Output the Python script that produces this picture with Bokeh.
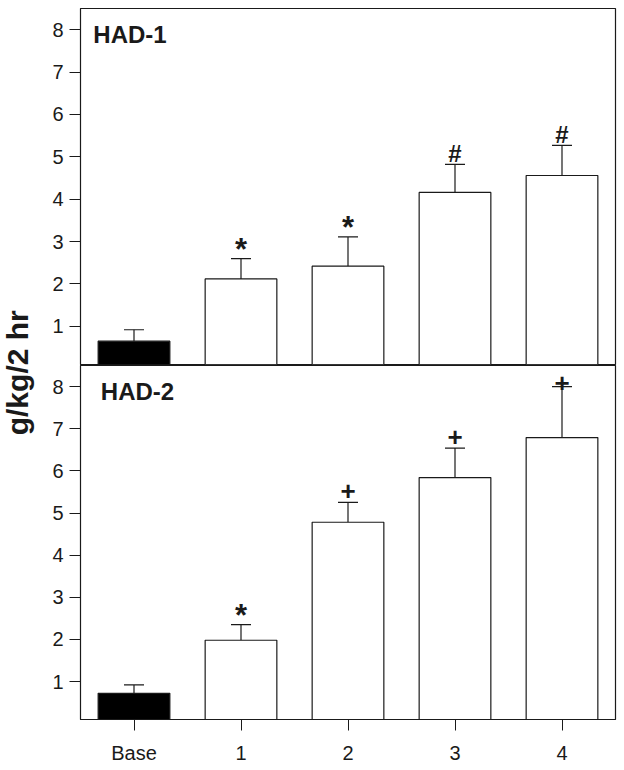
import math
from bokeh.plotting import figure
from bokeh.layouts import row, column
from bokeh.models import ColumnDataSource, Whisker, TeeHead, Label, FixedTicker, Range1d
from bokeh.core.properties import value
from bokeh.embed import file_html
from bokeh.resources import INLINE

# ---- data ----
categories = ["Base", "1", "2", "3", "4"]
had1_mean = [0.65, 2.12, 2.42, 4.16, 4.56]
had1_sem = [0.27, 0.48, 0.69, 0.66, 0.71]
had1_marks = ["", "*", "*", "#", "#"]
had2_mean = [0.72, 1.98, 4.78, 5.84, 6.79]
had2_sem = [0.20, 0.37, 0.47, 0.70, 1.21]
had2_marks = ["", "*", "+", "+", "+"]
y_ticks = [1, 2, 3, 4, 5, 6, 7, 8]
panel_titles = ["HAD-1", "HAD-2"]
y_label = "g/kg/2 hr"

FONT = "Liberation Sans"
INK = "#1a1a1a"
Y_MAX = 8.5
BAR_FILLS = ["black", "white", "white", "white", "white"]
MARK_SIZE = {"*": "31px", "#": "24px", "+": "26px", "": "20px"}
MARK_OFF = {"*": 9, "#": 11, "+": 11, "": 0}   # pixels upward from the cap


def mark_offset(mark, upper):
    off = MARK_OFF[mark]
    if upper > Y_MAX - 0.6:      # little room left below the panel top
        off = 4
    return -off


def panel(means, sems, marks, title, title_x, height, top_b, bot_b, show_x):
    p = figure(x_range=categories, y_range=Range1d(0.1, Y_MAX),
               width=578, height=height, output_backend="svg",
               toolbar_location=None, min_border_left=40, min_border_right=3,
               min_border_top=top_b, min_border_bottom=bot_b)
    p.grid.visible = False
    p.outline_line_color = INK
    p.outline_line_width = 1.2
    p.x_range.range_padding = 0
    uppers = [m + s for m, s in zip(means, sems)]
    src = ColumnDataSource(dict(
        x=categories, top=means, upper=uppers,
        fill=BAR_FILLS, mark=marks,
        msize=[MARK_SIZE[m] for m in marks],
        moff=[mark_offset(m, u) for m, u in zip(marks, uppers)]))
    p.vbar(x="x", top="top", bottom=0, width=0.67, source=src,
           fill_color="fill", line_color=INK, line_width=1.2)
    w = Whisker(base="x", lower="top", upper="upper", source=src,
                line_color=INK, line_width=1.2,
                upper_head=TeeHead(size=20, line_color=INK, line_width=1.2),
                lower_head=None)
    p.add_layout(w)
    p.text(x="x", y="upper", text="mark", source=src, text_align="center",
           text_baseline="alphabetic", text_font=value(FONT),
           text_font_style="bold", text_font_size="msize", y_offset="moff",
           text_color=INK)
    p.add_layout(Label(x=title_x, y=7.56, text=title, text_font=FONT,
                       text_font_style="bold", text_font_size="24px",
                       text_color=INK))
    # y axis
    p.yaxis.ticker = FixedTicker(ticks=y_ticks)
    p.yaxis.minor_tick_line_color = None
    p.yaxis.major_tick_in = 0
    p.yaxis.major_tick_out = 11
    p.yaxis.major_tick_line_color = INK
    p.yaxis.axis_line_color = INK
    p.yaxis.major_label_text_font = FONT
    p.yaxis.major_label_text_font_size = "20px"
    p.yaxis.major_label_text_color = INK
    p.yaxis.major_label_standoff = 6
    # x axis
    if show_x:
        p.xaxis.major_tick_in = 0
        p.xaxis.major_tick_out = 11
        p.xaxis.major_tick_line_color = INK
        p.xaxis.axis_line_color = INK
        p.xaxis.major_label_text_font = FONT
        p.xaxis.major_label_text_font_size = "20px"
        p.xaxis.major_label_text_color = INK
        p.xaxis.major_label_standoff = 11
    else:
        p.xaxis.visible = False
    return p


top = panel(had1_mean, had1_sem, had1_marks, panel_titles[0], 0.12, 365, 8, 1, False)
bot = panel(had2_mean, had2_sem, had2_marks, panel_titles[1], 0.19, 401, 0, 45, True)

lab = figure(width=40, height=766, x_range=(0, 1), y_range=(0, 1),
             output_backend="svg", toolbar_location=None,
             x_axis_location=None, y_axis_location=None,
             min_border=0)
lab.grid.visible = False
lab.outline_line_color = None
lab.add_layout(Label(x=0.43, y=0.514, text=y_label, angle=math.pi / 2,
                     text_align="center", text_baseline="middle",
                     text_font=FONT, text_font_style="bold",
                     text_font_size="30px", text_color=INK))

layout = row(lab, column(top, bot))
open("out.html", "w").write(file_html(layout, INLINE))
